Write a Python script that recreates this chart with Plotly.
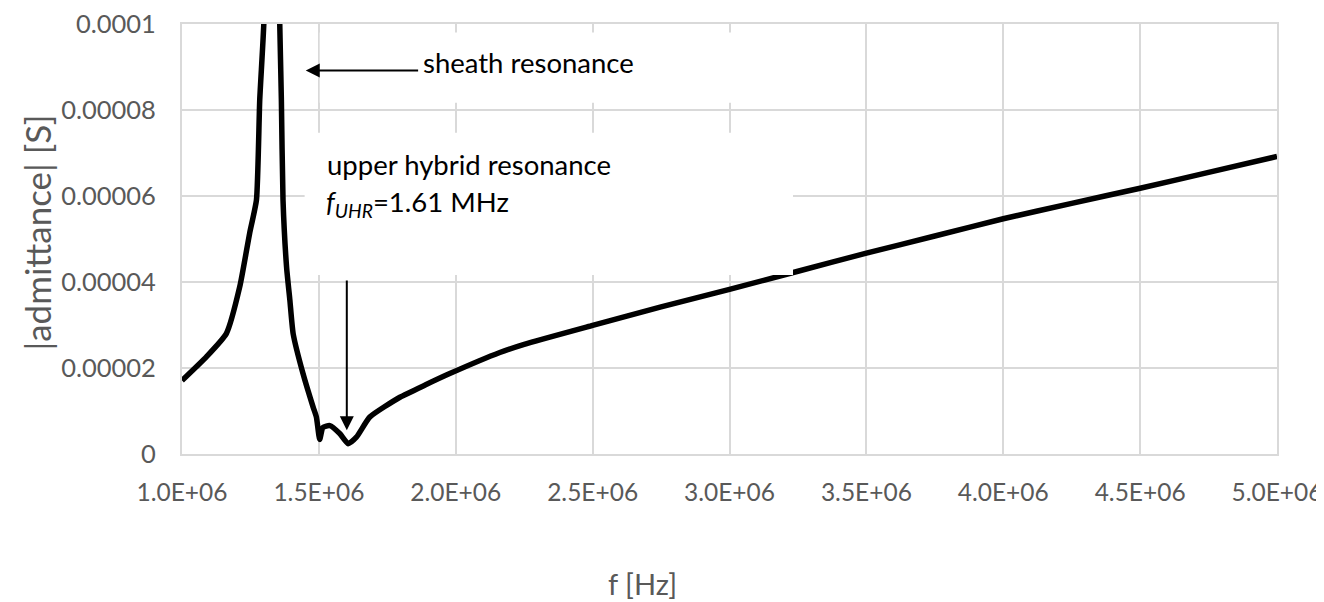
import plotly.graph_objects as go

# ---- data ----
freq_hz = [1.000e6, 1.089e6, 1.162e6, 1.211e6, 1.247e6, 1.272e6, 1.284e6, 1.299e6,
           1.328e6,
           1.357e6, 1.363e6, 1.369e6, 1.382e6, 1.394e6, 1.406e6, 1.442e6, 1.479e6,
           1.491e6, 1.503e6, 1.515e6, 1.540e6, 1.577e6, 1.607e6, 1.637e6, 1.686e6,
           1.796e6, 1.890e6, 1.978e6, 2.161e6, 2.250e6, 2.500e6, 2.750e6, 3.000e6,
           3.250e6, 3.500e6, 3.750e6, 4.000e6, 4.250e6, 4.500e6, 4.750e6, 5.000e6]
admittance_s = [1.71e-5, 2.26e-5, 2.80e-5, 3.89e-5, 5.13e-5, 5.91e-5, 8.24e-5, 1.003e-4,
                1.9e-4,
                1.003e-4, 8.24e-5, 5.91e-5, 4.35e-5, 3.58e-5, 2.80e-5, 1.87e-5, 1.09e-5,
                8.6e-6, 3.4e-6, 6.2e-6, 6.6e-6, 4.7e-6, 2.4e-6, 3.9e-6, 8.6e-6,
                1.32e-5, 1.61e-5, 1.87e-5, 2.36e-5, 2.55e-5, 2.99e-5, 3.42e-5, 3.83e-5,
                4.25e-5, 4.67e-5, 5.07e-5, 5.47e-5, 5.83e-5, 6.18e-5, 6.55e-5, 6.92e-5]

x_tick_vals = [1.0e6, 1.5e6, 2.0e6, 2.5e6, 3.0e6, 3.5e6, 4.0e6, 4.5e6, 5.0e6]
x_tick_text = ["1.0E+06", "1.5E+06", "2.0E+06", "2.5E+06", "3.0E+06",
               "3.5E+06", "4.0E+06", "4.5E+06", "5.0E+06"]
y_tick_vals = [0, 2e-5, 4e-5, 6e-5, 8e-5, 1e-4]
y_tick_text = ["0", "0.00002", "0.00004", "0.00006", "0.00008", "0.0001"]

f_uhr = 1.602e6

FONT = "Lato"
GRAY = "#595959"
GRID = "#d9d9d9"
TXT = 27.5

fig = go.Figure()
fig.add_trace(go.Scatter(x=freq_hz, y=admittance_s, mode="lines",
                         line=dict(color="black", width=5.5, shape="spline", smoothing=0.5),
                         showlegend=False, hoverinfo="skip"))

# white label boxes (as in the original, they hide grid and curve behind them)
fig.add_shape(type="rect", xref="x", yref="y", x0=1.503e6, x1=3.257e6,
              y0=8.17e-5, y1=9.80e-5, fillcolor="white", line=dict(width=0),
              layer="above")
fig.add_shape(type="rect", xref="x", yref="y", x0=1.448e6, x1=3.232e6,
              y0=4.16e-5, y1=7.47e-5, fillcolor="white", line=dict(width=0),
              layer="above")

# arrows
fig.add_annotation(x=1.452e6, y=8.92e-5, ax=1.868e6, ay=8.92e-5, axref="x", ayref="y",
                   xref="x", yref="y", text="", showarrow=True, arrowhead=2,
                   arrowsize=1.4, arrowwidth=2, arrowcolor="black", standoff=0)
fig.add_annotation(x=f_uhr, y=5.5e-6, ax=f_uhr, ay=4.07e-5, axref="x", ayref="y",
                   xref="x", yref="y", text="", showarrow=True, arrowhead=2,
                   arrowsize=1.4, arrowwidth=2, arrowcolor="black", standoff=0)

# texts
fig.add_annotation(x=1.872e6, y=9.10e-5, xref="x", yref="y", text="sheath resonance",
                   showarrow=False, xanchor="left", yanchor="middle",
                   font=dict(family=FONT, size=TXT, color="black"))
fig.add_annotation(x=1.522e6, y=6.74e-5, xref="x", yref="y", text="upper hybrid resonance",
                   showarrow=False, xanchor="left", yanchor="middle",
                   font=dict(family=FONT, size=TXT, color="black"))
fig.add_annotation(x=1.517e6, y=5.83e-5, xref="x", yref="y",
                   text="<i>f<sub>UHR</sub></i>=1.61 MHz",
                   showarrow=False, xanchor="left", yanchor="middle",
                   font=dict(family=FONT, size=TXT, color="black"))

# axis titles
fig.add_annotation(x=-0.132, y=0.516, xref="paper", yref="paper", text="|admittance| [S]",
                   showarrow=False, textangle=-90, xanchor="center", yanchor="middle",
                   font=dict(family=FONT, size=35, color=GRAY))
fig.add_annotation(x=0.421, y=-0.300, xref="paper", yref="paper", text="f [Hz]",
                   showarrow=False, xanchor="center", yanchor="middle",
                   font=dict(family=FONT, size=29, color=GRAY))

fig.update_xaxes(range=[1.0e6, 5.0e6], tickvals=x_tick_vals, ticktext=x_tick_text,
                 showgrid=True, gridcolor=GRID, gridwidth=2, zeroline=False,
                 showline=True, linecolor=GRID, linewidth=2, mirror=True,
                 ticks="", ticklabelstandoff=16, automargin=False,
                 ticklabeloverflow="allow",
                 tickfont=dict(family=FONT, size=24.5, color=GRAY))
fig.update_yaxes(range=[0, 1e-4], tickvals=y_tick_vals, ticktext=y_tick_text,
                 showgrid=True, gridcolor=GRID, gridwidth=2, zeroline=False,
                 showline=True, linecolor=GRID, linewidth=2, mirror=True,
                 ticks="", ticklabelstandoff=19, automargin=False,
                 ticklabeloverflow="allow",
                 tickfont=dict(family=FONT, size=25.5, color=GRAY))

# page body has an 8px margin, so the figure is sized to fit the 1324x602 window
fig.update_layout(width=1316, height=594, paper_bgcolor="white", plot_bgcolor="white",
                  margin=dict(l=174, r=47, t=16, b=148, autoexpand=False),
                  showlegend=False)

fig.write_html("out.html")
